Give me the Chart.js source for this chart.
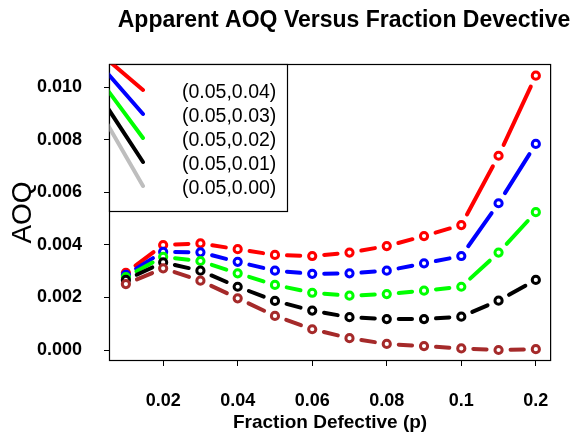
<!DOCTYPE html>
<html><head><meta charset="utf-8">
<script src="https://cdn.jsdelivr.net/npm/chart.js@4.4.0/dist/chart.umd.min.js"></script>
<style>html,body{margin:0;padding:0;background:#fff}</style>
</head><body>
<canvas id="c" width="573" height="436"></canvas>
<script>
// ---- data ----
const categories = ["0.01","0.02","0.03","0.04","0.05","0.06","0.07","0.08","0.09","0.1","0.15","0.2"];
const shownXTicks = ["0.02","0.04","0.06","0.08","0.1","0.2"];
const yTickValues = [0, 0.002, 0.004, 0.006, 0.008, 0.010];
const seriesNames = ["(0.05,0.04)","(0.05,0.03)","(0.05,0.02)","(0.05,0.01)","(0.05,0.00)"];
const aoq004 = [0.00294,0.00400,0.00406,0.00384,0.00362,0.00358,0.00371,0.00396,0.00434,0.00476,0.00740,0.01045];
const aoq003 = [0.00286,0.00374,0.00372,0.00336,0.00302,0.00290,0.00292,0.00302,0.00330,0.00358,0.00559,0.00785];
const aoq002 = [0.00278,0.00355,0.00339,0.00292,0.00248,0.00218,0.00207,0.00213,0.00226,0.00241,0.00371,0.00525];
const aoq001 = [0.00267,0.00334,0.00302,0.00241,0.00187,0.00150,0.00125,0.00118,0.00118,0.00127,0.00188,0.00267];
const aoq000 = [0.00251,0.00311,0.00264,0.00197,0.00130,0.00079,0.00045,0.00023,0.00015,0.00006,0.00000,0.00003];

const FONT = "'Liberation Sans', Arial, Helvetica, sans-serif";
const lineColors = ['#ff0000','#0000ff','#00ff00','#000000','#a52a2a'];
const legendColors = ['#ff0000','#0000ff','#00ff00','#000000','#bebebe'];
const allSeries = [aoq004, aoq003, aoq002, aoq001, aoq000];

const datasets = allSeries.map((vals, k) => ({
  label: seriesNames[k],
  data: vals.map((v, i) => ({x: i, y: v})),
  borderColor: lineColors[k],
  backgroundColor: '#ffffff',
  pointBackgroundColor: '#ffffff',
  pointBorderColor: lineColors[k],
  pointRadius: 3.6,
  pointBorderWidth: 3,
  pointHoverRadius: 3.6,
  showLine: false,
  order: allSeries.length - 1 - k
}));

const customPlugin = {
  id: 'customDraw',
  beforeDatasetDraw(chart, args) {
    const ctx = chart.ctx;
    const pts = args.meta.data;
    const ds = chart.data.datasets[args.index];
    const gap = 12;
    ctx.save();
    ctx.strokeStyle = ds.borderColor;
    ctx.lineWidth = 4;
    ctx.lineCap = 'round';
    for (let i = 0; i < pts.length - 1; i++) {
      const a = pts[i], b = pts[i + 1];
      const dx = b.x - a.x, dy = b.y - a.y;
      const L = Math.hypot(dx, dy);
      if (L <= 2 * gap) continue;
      const ux = dx / L, uy = dy / L;
      ctx.beginPath();
      ctx.moveTo(a.x + ux * gap, a.y + uy * gap);
      ctx.lineTo(b.x - ux * gap, b.y - uy * gap);
      ctx.stroke();
    }
    ctx.restore();
  },
  afterDraw(chart) {
    const ctx = chart.ctx;
    const ca = chart.chartArea;
    ctx.save();
    // frame
    ctx.strokeStyle = '#000';
    ctx.lineWidth = 1.2;
    ctx.strokeRect(ca.left + 0.5, ca.top + 0.5, ca.right - ca.left - 1, ca.bottom - ca.top - 1);
    // legend box
    const lx = ca.left + 0.5, ly = ca.top + 0.5, lw = 178, lh = 147;
    ctx.fillStyle = '#fff';
    ctx.fillRect(lx, ly, lw, lh);
    ctx.strokeRect(lx, ly, lw, lh);
    ctx.save();
    ctx.beginPath();
    ctx.rect(lx, ly, lw, lh);
    ctx.clip();
    const rises = [29, 39, 46, 52, 59];
    ctx.lineWidth = 4;
    ctx.lineCap = 'round';
    for (let k = 0; k < seriesNames.length; k++) {
      const rowY = ca.top + 29 + k * 24;
      const ex = ca.left + 34, ey = rowY - 3;
      ctx.strokeStyle = legendColors[k];
      ctx.beginPath();
      ctx.moveTo(ca.left - 10, ey - rises[k] * (44 / 34));
      ctx.lineTo(ex, ey);
      ctx.stroke();
    }
    ctx.restore();
    ctx.fillStyle = '#000';
    ctx.font = "19.5px " + FONT;
    ctx.textAlign = 'left';
    ctx.textBaseline = 'middle';
    for (let k = 0; k < seriesNames.length; k++) {
      ctx.fillText(seriesNames[k], ca.left + 73, ca.top + 29 + k * 24);
    }
    // title
    ctx.font = "bold 23px " + FONT;
    ctx.textAlign = 'center';
    ctx.textBaseline = 'alphabetic';
    ctx.fillText('Apparent AOQ Versus Fraction Devective', 344, 27);
    ctx.restore();
  }
};

new Chart(document.getElementById('c'), {
  type: 'line',
  data: { datasets },
  plugins: [customPlugin],
  options: {
    responsive: false,
    animation: false,
    devicePixelRatio: 1,
    layout: { padding: { top: 64, right: 19, left: 0, bottom: 0 } },
    plugins: { legend: { display: false }, tooltip: { enabled: false }, title: { display: false } },
    scales: {
      x: {
        type: 'linear',
        min: -0.453,
        max: 11.41,
        afterFit(s) { s.height = 75; },
        afterBuildTicks(s) {
          s.ticks = shownXTicks.map(t => ({ value: categories.indexOf(t) }));
        },
        grid: { display: true, drawOnChartArea: false, drawTicks: true, tickLength: 5, color: '#000', lineWidth: 1 },
        border: { display: false },
        ticks: {
          autoSkip: false, maxRotation: 0, padding: 24,
          color: '#000', font: { family: FONT, size: 18, weight: 'bold' },
          callback: v => categories[Math.round(v)]
        },
        title: {
          display: true, text: 'Fraction Defective (p)', color: '#000',
          font: { family: FONT, size: 19, weight: 'bold' },
          padding: { top: 0, bottom: 2 }
        }
      },
      y: {
        type: 'linear',
        min: -0.000419,
        max: 0.010895,
        afterFit(s) { s.width = 109; },
        afterBuildTicks(s) {
          s.ticks = yTickValues.map(v => ({ value: v }));
        },
        grid: { display: true, drawOnChartArea: false, drawTicks: true, tickLength: 5, color: '#000', lineWidth: 1 },
        border: { display: false },
        ticks: {
          padding: 22, color: '#000',
          font: { family: FONT, size: 18, weight: 'bold' },
          callback: v => v.toFixed(3)
        },
        title: {
          display: true, text: 'AOQ', color: '#000',
          font: { family: FONT, size: 28, weight: 'normal' },
          padding: { top: 6, bottom: 0 }
        }
      }
    }
  }
});
</script>
</body></html>
